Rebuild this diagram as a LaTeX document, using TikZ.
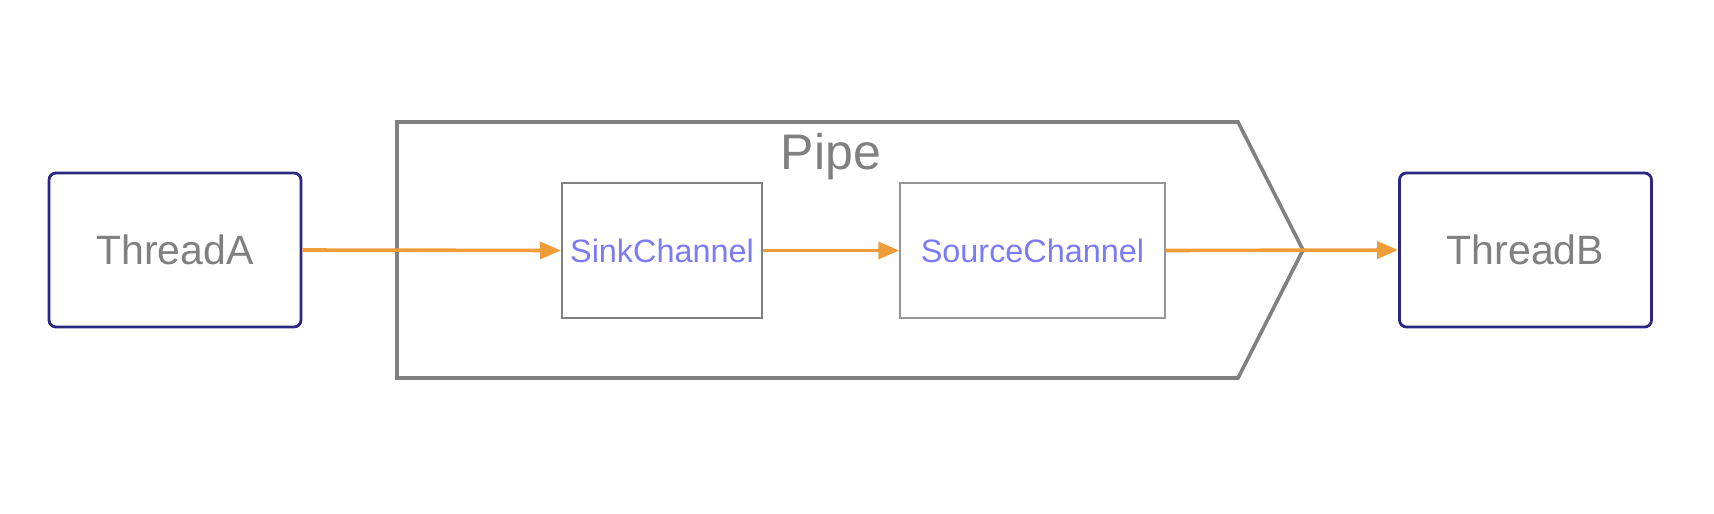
\documentclass[tikz,border=0pt]{standalone}
\usepackage{fontspec}
\setmainfont{Liberation Sans}
\usetikzlibrary{positioning}
\usetikzlibrary{arrows.meta}

\definecolor{txtgray}{RGB}{128,128,128}
\definecolor{navy}{RGB}{44,40,130}
\definecolor{chanblue}{RGB}{123,123,247}
\definecolor{flowor}{RGB}{240,156,56}
\definecolor{lightgray}{RGB}{150,150,150}

\tikzset{
    thread/.style={draw=navy, line width=1.4pt, rounded corners=3.5pt,
        minimum width=126pt, minimum height=77pt, inner sep=0pt,
        text=txtgray, font=\fontsize{20.5}{24}\selectfont},
    channel/.style={draw=txtgray, line width=1.1pt,
        minimum height=67.5pt, inner sep=0pt,
        text=chanblue, font=\fontsize{16.2}{19}\selectfont},
    flow/.style={-{Triangle[length=10.5pt,width=8.5pt]}, draw=flowor, line width=1.8pt}
}

\begin{document}
\begin{tikzpicture}[x=0.5pt, y=-0.5pt]
            \useasboundingbox (0,0) rectangle (1714,514);

            % Pipe outline
            \draw[txtgray, line width=1.8pt, line join=miter]
                (397,122) -- (1238,122) -- (1303,250) -- (1238,378) -- (397,378) -- cycle;
            \node[anchor=base, text=txtgray, font=\fontsize{25}{29}\selectfont]
                (pipelabel) at (831,169) {Pipe};

            % Threads
            \node[thread] (threadA) at (175,250) {ThreadA};
            \node[thread] (threadB) at (1525.5,250) {ThreadB};

            % Channels
            \node[channel, minimum width=100pt] (sink) at (662,250.5) {SinkChannel};
            \node[channel, minimum width=132.5pt, draw=lightgray, line width=0.7pt]
                (source) at (1032.5,250.5) {SourceChannel};

            % Data flow
            \draw[flow] (threadA.east) -- (sink.west);
            \draw[flow] (sink.east) -- (source.west);
            \draw[flow] (source.east) -- (threadB.west);

        \end{tikzpicture}
\end{document}
